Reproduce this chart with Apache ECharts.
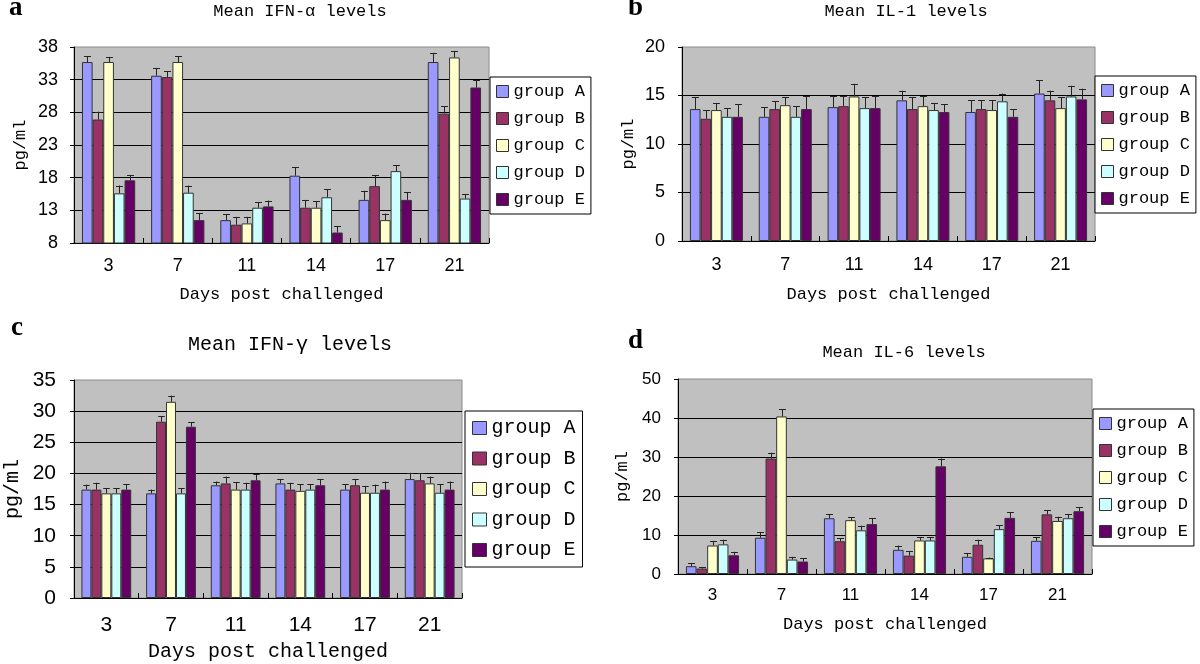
<!DOCTYPE html>
<html>
<head>
<meta charset="utf-8">
<script src="https://cdn.jsdelivr.net/npm/echarts@6/dist/echarts.min.js"></script>
<style>html,body{margin:0;padding:0;background:#fff;}#chart{width:1200px;height:664px;}</style>
</head>
<body>
<div id="chart"></div>
<script>
// ---------- data ----------
const days = ['3', '7', '11', '14', '17', '21'];
const groups = ['group A', 'group B', 'group C', 'group D', 'group E'];
const groupColors = ['#9999FF', '#993366', '#FFFFCC', '#CCFFFF', '#660066'];

// Panel a: Mean IFN-α levels (rows = groups A..E, columns = days)
const ifnAlphaMean = [
  [35.7, 33.6, 11.5, 18.3, 14.6, 35.7],
  [26.9, 33.4, 10.8, 13.4, 16.7, 27.8],
  [35.7, 35.7, 11.0, 13.4, 11.5, 36.4],
  [15.6, 15.7, 13.4, 15.0, 19.0, 14.8],
  [17.6, 11.5, 13.6, 9.6, 14.6, 31.8]
];
const ifnAlphaErr = [
  [0.9, 1.2, 0.9, 1.3, 1.4, 1.4],
  [1.2, 0.9, 1.2, 1.2, 1.7, 1.1],
  [0.7, 0.9, 1.0, 1.0, 1.0, 1.0],
  [1.2, 1.1, 0.8, 1.2, 0.9, 0.7],
  [0.8, 1.1, 0.9, 1.0, 1.2, 1.1]
];
const ifnAlphaTicks = [8, 38, 5];

// Panel b: Mean IL-1 levels
const il1Mean = [
  [13.6, 12.8, 13.8, 14.5, 13.3, 15.2],
  [12.6, 13.6, 13.9, 13.6, 13.6, 14.5],
  [13.5, 14.0, 14.9, 13.9, 13.5, 13.7],
  [12.8, 12.8, 13.7, 13.5, 14.4, 14.9],
  [12.8, 13.6, 13.7, 13.3, 12.8, 14.6]
];
const il1Err = [
  [1.2, 1.0, 1.1, 1.0, 1.2, 1.4],
  [0.9, 0.8, 1.0, 1.2, 0.9, 1.0],
  [0.7, 0.8, 1.3, 1.0, 1.0, 1.1],
  [0.9, 1.1, 1.1, 0.7, 0.8, 1.1],
  [1.3, 1.3, 1.2, 0.8, 0.8, 1.1]
];
const il1Ticks = [0, 20, 5];

// Panel c: Mean IFN-γ levels
const ifnGammaMean = [
  [17.4, 16.8, 18.1, 18.4, 17.4, 19.1],
  [17.4, 28.3, 18.4, 17.4, 18.1, 18.9],
  [16.8, 31.5, 17.4, 17.2, 16.9, 18.4],
  [16.8, 16.8, 17.4, 17.4, 16.9, 16.9],
  [17.4, 27.5, 18.9, 18.1, 17.4, 17.4]
];
const ifnGammaErr = [
  [0.8, 0.6, 0.6, 0.7, 0.9, 1.0],
  [1.1, 0.9, 1.1, 1.1, 1.0, 1.1],
  [0.8, 1.0, 1.2, 1.1, 1.1, 1.1],
  [0.8, 0.8, 1.1, 0.9, 1.3, 1.4],
  [0.9, 0.7, 1.0, 1.0, 1.3, 1.3]
];
const ifnGammaTicks = [0, 35, 5];

// Panel d: Mean IL-6 levels
const il6Mean = [
  [2.0, 9.3, 14.3, 6.2, 4.4, 8.5],
  [1.4, 29.6, 8.4, 4.7, 7.5, 15.3],
  [7.3, 40.4, 13.8, 8.6, 4.0, 13.6],
  [7.6, 3.7, 11.2, 8.6, 11.5, 14.3],
  [4.8, 3.2, 12.8, 27.6, 14.4, 16.1]
];
const il6Err = [
  [0.7, 1.5, 1.0, 1.1, 1.0, 1.0],
  [0.4, 1.5, 0.8, 1.1, 1.3, 1.1],
  [1.2, 1.8, 0.8, 0.8, 0.2, 1.1],
  [1.2, 0.7, 1.2, 0.8, 1.0, 1.0],
  [0.9, 0.9, 1.5, 2.0, 1.4, 1.0]
];
const il6Ticks = [0, 50, 10];

const titles = ['Mean IFN-α levels', 'Mean IL-1 levels', 'Mean IFN-γ levels', 'Mean IL-6 levels'];
const letters = ['a', 'b', 'c', 'd'];
const xName = 'Days post challenged';
const yName = 'pg/ml';

// ---------- layout ----------
const GAP = 0.23;
const TXT = 'Liberation Mono';
const NUM = 'Liberation Sans';
const panels = [
  { mean: ifnAlphaMean, err: ifnAlphaErr, ticks: ifnAlphaTicks,
    grid: { left: 74, top: 47, width: 415, height: 196 },
    legend: { left: 490, top: 77 }, fs: 17, nfs: 18, legFs: 17, icon: [12, 12], legGap: 10, legPad: [6, 6, 6, 6],
    title: [300, 11], letter: [9, 22], yGap: 45, yMargin: 16, xMargin: 14, xGap: 43 },
  { mean: il1Mean, err: il1Err, ticks: il1Ticks,
    grid: { left: 682, top: 47, width: 413, height: 194 },
    legend: { left: 1095, top: 76 }, fs: 17, nfs: 18, legFs: 17, icon: [12, 12], legGap: 10, legPad: [6, 6, 6, 6],
    title: [906, 11], letter: [628, 22], yGap: 45, yMargin: 17, xMargin: 15, xGap: 45 },
  { mean: ifnGammaMean, err: ifnGammaErr, ticks: ifnGammaTicks,
    grid: { left: 74, top: 380, width: 388, height: 218 },
    legend: { left: 465, top: 411 }, fs: 20, nfs: 21, legFs: 20, icon: [14, 13], legGap: 10.5, legPad: [7, 7, 7, 7],
    title: [290, 345], letter: [11, 342], yGap: 51, yMargin: 18, xMargin: 17, xGap: 44 },
  { mean: il6Mean, err: il6Err, ticks: il6Ticks,
    grid: { left: 678, top: 379, width: 414, height: 195 },
    legend: { left: 1093, top: 409 }, fs: 17, nfs: 17, legFs: 17, icon: [12, 12], legGap: 10, legPad: [6, 6, 6, 6],
    title: [904, 352], letter: [628, 355], yGap: 47, yMargin: 17, xMargin: 13, xGap: 42 }
];

const grid = [], xAxis = [], yAxis = [], series = [], legend = [], graphic = [];

function errorRender(params, api) {
  const cat = api.value(0), g = api.value(1), v = api.value(2), e = api.value(3);
  const base = api.coord([cat, v]);
  const top = api.coord([cat, v + e]);
  const band = api.size([1, 0])[0];
  const total = band * (1 - GAP);
  const bw = total / groups.length;
  const x = Math.round(base[0] - total / 2 + (g + 0.5) * bw) + 0.5;
  const cap = Math.max(5, bw * 0.65);
  const style = { stroke: '#222', lineWidth: 1 };
  return {
    type: 'group',
    children: [
      { type: 'line', shape: { x1: x, y1: base[1], x2: x, y2: top[1] }, style: style },
      { type: 'line', shape: { x1: x - cap / 2, y1: Math.round(top[1]) + 0.5, x2: x + cap / 2, y2: Math.round(top[1]) + 0.5 }, style: style }
    ]
  };
}

panels.forEach((p, k) => {
  grid.push(Object.assign({ show: true, backgroundColor: '#C0C0C0', borderColor: '#8a8a8a', borderWidth: 1 }, p.grid));
  xAxis.push({
    type: 'category', gridIndex: k, data: days,
    name: xName, nameLocation: 'middle', nameGap: p.xGap,
    nameTextStyle: { fontFamily: TXT, fontSize: p.fs, color: '#000' },
    axisLine: { lineStyle: { color: '#000', width: 1 } },
    axisTick: { show: true, inside: true, length: 5, lineStyle: { color: '#000' } },
    axisLabel: { fontFamily: NUM, fontSize: p.nfs, color: '#000', margin: p.xMargin },
    splitLine: { show: false }
  });
  yAxis.push({
    type: 'value', gridIndex: k, min: p.ticks[0], max: p.ticks[1], interval: p.ticks[2],
    name: yName, nameLocation: 'middle', nameGap: p.yGap, nameRotate: 90,
    nameTextStyle: { fontFamily: TXT, fontSize: p.fs, color: '#000' },
    axisLine: { show: true, lineStyle: { color: '#000', width: 1 } },
    axisTick: { show: true, length: 4, lineStyle: { color: '#000' } },
    axisLabel: { fontFamily: NUM, fontSize: p.nfs, color: '#000', margin: p.yMargin },
    splitLine: { show: true, showMinLine: false, showMaxLine: false, lineStyle: { color: '#000', width: 1 } }
  });
  groups.forEach((g, gi) => {
    series.push({
      type: 'bar', name: g, xAxisIndex: k, yAxisIndex: k,
      data: p.mean[gi],
      barGap: '0%', barCategoryGap: (GAP * 100) + '%',
      itemStyle: { color: groupColors[gi], borderColor: '#333', borderWidth: 1 },
      emphasis: { disabled: true }, silent: true, animation: false
    });
  });
  const errData = [];
  groups.forEach((g, gi) => {
    days.forEach((d, di) => errData.push([di, gi, p.mean[gi][di], p.err[gi][di]]));
  });
  series.push({
    type: 'custom', xAxisIndex: k, yAxisIndex: k, renderItem: errorRender,
    data: errData, encode: { x: 0, y: 2 }, z: 5, silent: true, animation: false
  });
  legend.push({
    orient: 'vertical', left: p.legend.left, top: p.legend.top,
    data: groups, icon: 'rect', itemWidth: p.icon[0], itemHeight: p.icon[1], itemGap: p.legGap,
    padding: p.legPad, backgroundColor: '#fff', borderColor: '#000', borderWidth: 1, borderRadius: 0,
    selectedMode: false,
    textStyle: { fontFamily: TXT, fontSize: p.legFs, lineHeight: p.legFs, color: '#000' },
    itemStyle: { borderColor: '#333', borderWidth: 1 }
  });
  graphic.push({
    type: 'text', x: p.title[0], y: p.title[1], silent: true,
    style: { text: titles[k], font: p.fs + 'px "' + TXT + '"', fill: '#000', textAlign: 'center', textVerticalAlign: 'middle' }
  });
  graphic.push({
    type: 'text', x: p.letter[0], y: p.letter[1], silent: true,
    style: { text: letters[k], font: 'bold 27px "Liberation Serif"', fill: '#000', textAlign: 'left', textVerticalAlign: 'bottom' }
  });
});

const chart = echarts.init(document.getElementById('chart'), null, { renderer: 'canvas' });
chart.setOption({
  animation: false,
  backgroundColor: '#fff',
  grid: grid, xAxis: xAxis, yAxis: yAxis, series: series, legend: legend, graphic: graphic
});
</script>
</body>
</html>
